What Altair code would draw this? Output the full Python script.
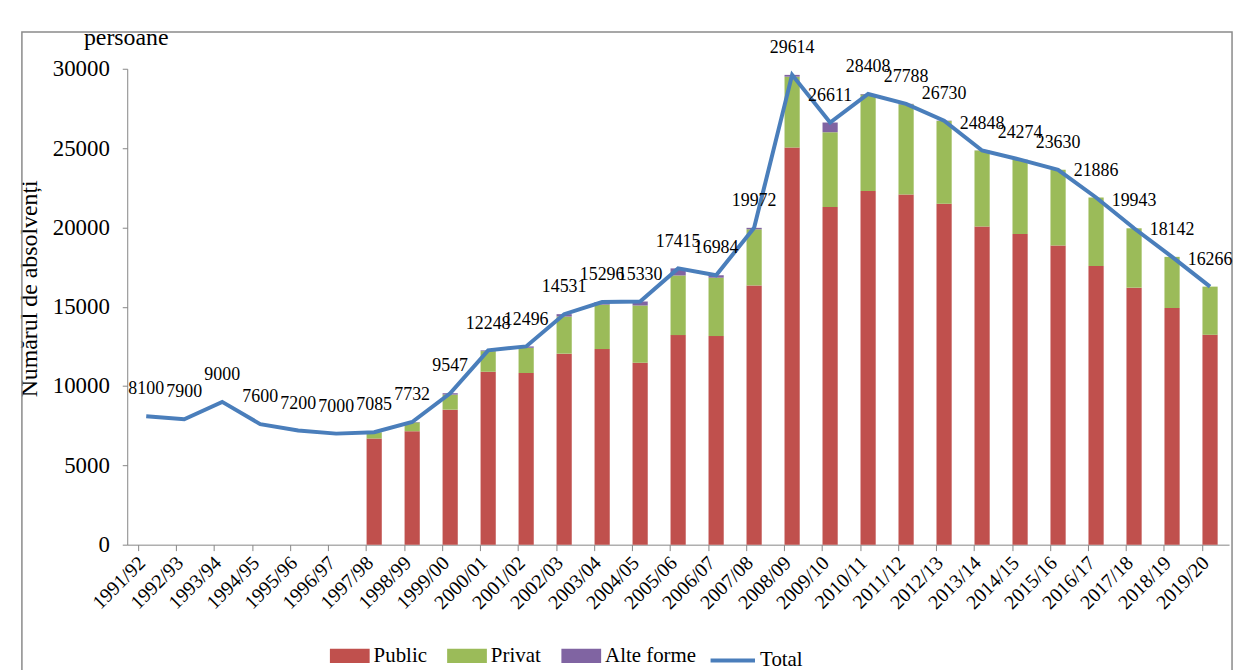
import altair as alt
import pandas as pd

years = ["1991/92", "1992/93", "1993/94", "1994/95", "1995/96", "1996/97", "1997/98",
         "1998/99", "1999/00", "2000/01", "2001/02", "2002/03", "2003/04", "2004/05",
         "2005/06", "2006/07", "2007/08", "2008/09", "2009/10", "2010/11", "2011/12",
         "2012/13", "2013/14", "2014/15", "2015/16", "2016/17", "2017/18", "2018/19", "2019/20"]
total = [8100, 7900, 9000, 7600, 7200, 7000, 7085, 7732, 9547, 12248, 12496, 14531, 15296,
         15330, 17415, 16984, 19972, 29614, 26611, 28408, 27788, 26730, 24848, 24274,
         23630, 21886, 19943, 18142, 16266]
public = [None, None, None, None, None, None, 6700, 7150, 8510, 10900, 10820, 12040, 12330,
          11470, 13210, 13150, 16340, 25040, 21280, 22290, 22080, 21490, 20050, 19580,
          18860, 17570, 16200, 14920, 13230]
privat = [None, None, None, None, None, None, 385, 560, 950, 1300, 1590, 2340, 2800,
          3600, 3760, 3680, 3540, 4460, 4720, 6080, 5680, 5220, 4790, 4690,
          4770, 4316, 3743, 3222, 3036]
alte = [None, None, None, None, None, None, 0, 22, 87, 48, 86, 151, 166,
        260, 445, 154, 92, 114, 611, 38, 28, 20, 8, 4,
        0, 0, 0, 0, 0]
y_ticks = [0, 5000, 10000, 15000, 20000, 25000, 30000]

bar_series = ["Public", "Privat", "Alte forme"]
bar_colors = ["#C0504D", "#9BBB59", "#8064A2"]
line_color = "#4A7EBB"

rows = []
for i, y in enumerate(years):
    for k, (name, vals) in enumerate(zip(bar_series, [public, privat, alte])):
        if vals[i] is not None:
            rows.append({"an": y, "serie": name, "valoare": vals[i], "ord": k})
bars_df = pd.DataFrame(rows)
tot_df = pd.DataFrame({"an": years, "valoare": total, "serie": ["Total"] * len(years)})
unit_df = pd.DataFrame({"t": ["persoane"]})

FONT = "Liberation Serif"
W, H = 1109, 479

xenc = alt.X("an:N", sort=years, title=None,
             scale=alt.Scale(paddingInner=0.6, paddingOuter=0.3),
             axis=alt.Axis(labelAngle=-45, labelAlign="right", labelBaseline="middle",
                           labelFontSize=20, labelFont=FONT, labelColor="black",
                           labelPadding=9, labelOffset=-4, tickSize=6, bandPosition=0,
                           domainColor="#868686", tickColor="#868686", labelOverlap=False,
                           grid=False))
yscale = alt.Scale(domain=[0, 30000], nice=False)

bar_legend = alt.Legend(
    title=None, orient="none", direction="horizontal", legendX=204, legendY=571,
    labelFont=FONT, labelFontSize=21, labelColor="black", symbolSize=1600,
    symbolType="M-1,-0.36L1,-0.36L1,0.36L-1,0.36Z", columnPadding=20, labelOffset=4,
    symbolStrokeWidth=0)

line_legend = alt.Legend(
    title=None, orient="none", direction="horizontal", legendX=585, legendY=571,
    labelFont=FONT, labelFontSize=21, labelColor="black", symbolSize=2000,
    symbolType="stroke", symbolStrokeWidth=4, labelOffset=3)

bars = alt.Chart(bars_df).mark_bar().encode(
    x=xenc,
    y=alt.Y("valoare:Q", stack="zero", scale=yscale,
            axis=alt.Axis(values=y_ticks, format="d",
                          labelFont=FONT, labelFontSize=23, labelColor="black",
                          tickSize=5, labelPadding=13, grid=False,
                          domainColor="#868686", tickColor="#868686",
                          title="Numărul de absolvenți", titleFont=FONT, titleFontSize=24,
                          titleFontWeight="normal", titleColor="black",
                          titleX=-98, titleY=221, titleAngle=-90,
                          titleAlign="center", titleBaseline="middle")),
    color=alt.Color("serie:N", scale=alt.Scale(domain=bar_series, range=bar_colors),
                    legend=bar_legend),
    order=alt.Order("ord:Q", sort="ascending"),
)

line = alt.Chart(tot_df).mark_line(strokeWidth=4).encode(
    x=alt.X("an:N", sort=years),
    y=alt.Y("valoare:Q", scale=yscale),
    stroke=alt.Stroke("serie:N", scale=alt.Scale(domain=["Total"], range=[line_color]),
                      legend=line_legend),
)

labels = alt.Chart(tot_df).mark_text(font=FONT, fontSize=18, dy=-27, color="black",
                                     baseline="middle").encode(
    x=alt.X("an:N", sort=years),
    y=alt.Y("valoare:Q", scale=yscale),
    text=alt.Text("valoare:Q", format="d"),
)

unit = alt.Chart(unit_df).mark_text(font=FONT, fontSize=24, color="black",
                                    baseline="middle", align="center").encode(
    x=alt.value(-1), y=alt.value(-31), text="t:N")

frame = alt.Chart(unit_df).mark_rect(fill=None, stroke="#8A8A8A", strokeWidth=1.5,
                                     clip=False).encode(
    x=alt.value(-106), x2=alt.value(1112), y=alt.value(-37), y2=alt.value(640))

chart = alt.layer(frame, bars, line, labels, unit).properties(
    width=W, height=H,
    background="white",
    view=alt.ViewBackground(stroke=None, strokeWidth=0),
    autosize=alt.AutoSizeParams(type="none"),
    padding={"left": 120, "top": 59, "right": 8, "bottom": 124},
).resolve_scale(color="independent").configure_view(
    stroke=None, strokeWidth=0).configure_axis(grid=False)

chart.save("out.html", embed_options={"renderer": "svg", "actions": False})
